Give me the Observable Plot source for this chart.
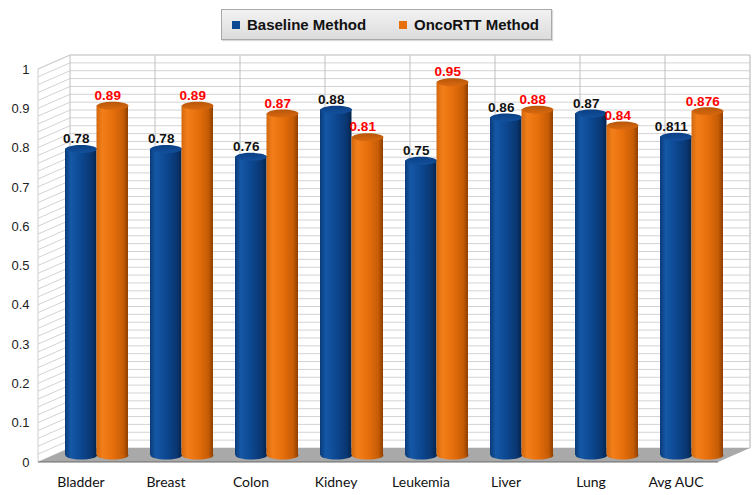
<!DOCTYPE html>
<html>
<head>
<meta charset="utf-8">
<script src="https://cdn.jsdelivr.net/npm/d3@7"></script>
<script src="https://cdn.jsdelivr.net/npm/@observablehq/plot@0.6"></script>
<style>
  html, body { margin: 0; padding: 0; background: #ffffff; }
  #wrap { position: relative; width: 754px; height: 495px; overflow: hidden; }
  #legend {
    position: absolute; left: 221px; top: 9px; width: 329px; height: 29px;
    background: linear-gradient(#f2f2f2, #dcdcdc);
    border: 1px solid #a9a9a9;
    box-shadow: 1px 1px 1px rgba(0,0,0,0.15);
    font-family: "Liberation Sans", Arial, sans-serif; font-weight: bold; font-size: 15px; color: #111;
  }
  .item { position: absolute; top: 0; height: 29px; line-height: 29px; white-space: nowrap; }
  .sw { display: inline-block; width: 8px; height: 8px; vertical-align: middle; margin-right: 7px; position: relative; top: -1px; }
  #chart { position: absolute; left: 0; top: 45px; }
</style>
</head>
<body>
<div id="wrap">
  <div id="legend"></div>
  <div id="chart"></div>
</div>
<script>
// ---- data ----
const categories = ["Bladder", "Breast", "Colon", "Kidney", "Leukemia", "Liver", "Lung", "Avg AUC"];
const seriesNames = ["Baseline Method", "OncoRTT Method"];
const baselineValues = [0.78, 0.78, 0.76, 0.88, 0.75, 0.86, 0.87, 0.811];
const oncorttValues = [0.89, 0.89, 0.87, 0.81, 0.95, 0.88, 0.84, 0.876];
const yTicks = [0, 0.1, 0.2, 0.3, 0.4, 0.5, 0.6, 0.7, 0.8, 0.9, 1];
const yTickLabels = ["0", "0.1", "0.2", "0.3", "0.4", "0.5", "0.6", "0.7", "0.8", "0.9", "1"];
const minorGrid = d3.range(0, 51).map(i => i / 50);

const seriesColors = ["#0b4892", "#e8700c"];
const labelColors = ["#111111", "#ff0000"];

const rows = [];
categories.forEach((c, i) => {
  rows.push({cat: c, series: seriesNames[0], value: baselineValues[i]});
  rows.push({cat: c, series: seriesNames[1], value: oncorttValues[i]});
});
const tickRows = yTicks.map((v, i) => ({v, label: yTickLabels[i]}));

// ---- legend ----
const legend = document.getElementById("legend");
const legendPos = [10, 177];
seriesNames.forEach((s, i) => {
  const el = document.createElement("div");
  el.className = "item";
  el.style.left = legendPos[i] + "px";
  el.innerHTML = `<span class="sw" style="background:${seriesColors[i]}"></span>${s}`;
  legend.appendChild(el);
});

// ---- geometry styling ----
const DX = 16, DY = 7;        // perspective depth offsets (front = -, back = +)
const barInsetOuter = 11;     // gap between pair and band edge
const capW = 31.5, capH = 8;

function ellipseSymbol(w, h) {
  return {
    draw(ctx) {
      const a = w / 2, b = h / 2, k = 0.5523;
      ctx.moveTo(-a, 0);
      ctx.bezierCurveTo(-a, -b * k, -a * k, -b, 0, -b);
      ctx.bezierCurveTo(a * k, -b, a, -b * k, a, 0);
      ctx.bezierCurveTo(a, b * k, a * k, b, 0, b);
      ctx.bezierCurveTo(-a * k, b, -a, b * k, -a, 0);
      ctx.closePath();
    }
  };
}
const capSymbol = ellipseSymbol(capW, capH);

// walls, floor and gridlines drawn through the plot's scales
function walls(index, scales, values, dims) {
  const {width, marginLeft, marginRight} = dims;
  const y = scales.y;
  const x0 = marginLeft, x1 = width - marginRight;
  const g = d3.create("svg:g");
  g.append("rect").attr("x", x0 + DX).attr("y", y(1) - DY)
    .attr("width", x1 - x0).attr("height", y(0) - y(1)).attr("fill", "#ffffff");
  g.append("path").attr("d",
    `M${x0 - DX},${y(0) + DY}L${x0 - DX},${y(1) + DY}L${x0 + DX},${y(1) - DY}L${x0 + DX},${y(0) - DY}Z`)
    .attr("fill", "#ffffff");
  for (const v of minorGrid) {
    g.append("line").attr("x1", x0 + DX).attr("x2", x1 + DX)
      .attr("y1", y(v) - DY).attr("y2", y(v) - DY)
      .attr("stroke", "#d3d3d3").attr("stroke-width", 1);
    g.append("line").attr("x1", x0 - DX).attr("x2", x0 + DX)
      .attr("y1", y(v) + DY).attr("y2", y(v) - DY)
      .attr("stroke", "#d3d3d3").attr("stroke-width", 1);
  }
  const edges = categories.map(c => scales.x(c)).concat([x1]);
  for (const ex of edges) {
    g.append("line").attr("x1", ex + DX).attr("x2", ex + DX)
      .attr("y1", y(1) - DY).attr("y2", y(0) - DY)
      .attr("stroke", "#c0c0c0").attr("stroke-width", 1);
  }
  g.append("path").attr("d",
    `M${x0 - DX},${y(0) + DY}L${x0 - DX},${y(1) + DY}L${x0 + DX},${y(1) - DY}L${x1 + DX},${y(1) - DY}L${x1 + DX},${y(0) - DY}`)
    .attr("fill", "none").attr("stroke", "#cfcfcf").attr("stroke-width", 1);
  g.append("path").attr("d",
    `M${x0 - DX},${y(0) + DY}L${x1 - DX},${y(0) + DY}L${x1 + DX},${y(0) - DY}L${x0 + DX},${y(0) - DY}Z`)
    .attr("fill", "#a9a9a9");
  g.append("line").attr("x1", x0 - DX).attr("x2", x1 - DX)
    .attr("y1", y(0) + DY).attr("y2", y(0) + DY)
    .attr("stroke", "#6a6a6a").attr("stroke-width", 1.2);
  return g.node();
}

const bandHalf = 42.5;
const barCenter = [-(bandHalf - barInsetOuter) / 2, (bandHalf - barInsetOuter) / 2];

const marks = [walls];
seriesNames.forEach((s, i) => {
  const data = rows.filter(r => r.series === s);
  const fillBody = i === 0 ? "url(#gBlue)" : "url(#gOrange)";
  const fillCap = i === 0 ? "url(#gBlueCap)" : "url(#gOrangeCap)";
  marks.push(
    Plot.dot(data, {x: "cat", y: () => 0, symbol: capSymbol, r: 4, fill: fillBody, stroke: "none", dx: barCenter[i]}),
    Plot.barY(data, {x: "cat", y: "value", fill: fillBody,
      insetLeft: i === 0 ? barInsetOuter : bandHalf, insetRight: i === 0 ? bandHalf : barInsetOuter}),
    Plot.dot(data, {x: "cat", y: "value", symbol: capSymbol, r: 4, fill: fillCap, stroke: "none", dx: barCenter[i]}),
    Plot.text(data, {x: "cat", y: "value", text: d => String(d.value), dx: barCenter[i] - 5, dy: -10,
      fill: labelColors[i], fontWeight: "bold", fontSize: 13.5, fontFamily: "Liberation Sans, Arial, sans-serif"})
  );
});
marks.push(
  Plot.text(tickRows, {y: "v", text: "label", frameAnchor: "left", textAnchor: "end", dx: -DX - 9, dy: DY,
    fontSize: 13, fill: "#222", fontFamily: "Liberation Sans, Arial, sans-serif"}),
  Plot.text(categories, {x: d => d, frameAnchor: "bottom", dx: -DX, dy: 31,
    fontSize: 14, fill: "#111", fontFamily: "Lato, Open Sans, sans-serif"})
);

const svg = Plot.plot({
  width: 754,
  height: 450,
  marginLeft: 54,
  marginRight: 20,
  marginTop: 17,
  marginBottom: 40,
  x: {type: "band", domain: categories, padding: 0, axis: null},
  y: {domain: [0, 1], axis: null},
  style: {background: "transparent", overflow: "visible"},
  marks
});

const defs = `
<defs>
  <linearGradient id="gBlue" x1="0" x2="1" y1="0" y2="0">
    <stop offset="0" stop-color="#0a3a78"/>
    <stop offset="0.18" stop-color="#1558a6"/>
    <stop offset="0.5" stop-color="#0d4892"/>
    <stop offset="0.85" stop-color="#093670"/>
    <stop offset="1" stop-color="#05244d"/>
  </linearGradient>
  <linearGradient id="gOrange" x1="0" x2="1" y1="0" y2="0">
    <stop offset="0" stop-color="#d2680e"/>
    <stop offset="0.18" stop-color="#f27e1a"/>
    <stop offset="0.5" stop-color="#e8700c"/>
    <stop offset="0.85" stop-color="#c65c05"/>
    <stop offset="1" stop-color="#8e3f00"/>
  </linearGradient>
  <linearGradient id="gBlueCap" x1="0" x2="0" y1="0" y2="1">
    <stop offset="0" stop-color="#0b3f84"/>
    <stop offset="1" stop-color="#12509c"/>
  </linearGradient>
  <linearGradient id="gOrangeCap" x1="0" x2="0" y1="0" y2="1">
    <stop offset="0" stop-color="#b8560a"/>
    <stop offset="1" stop-color="#d8690e"/>
  </linearGradient>
</defs>`;
svg.insertAdjacentHTML("afterbegin", defs);
document.getElementById("chart").appendChild(svg);
</script>
</body>
</html>
